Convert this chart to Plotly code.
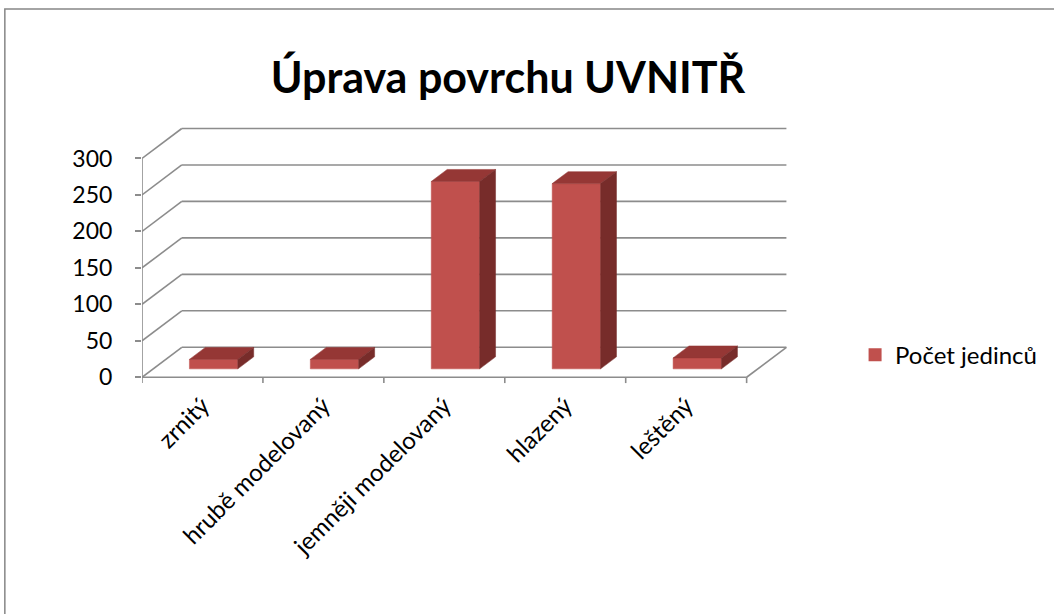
import plotly.graph_objects as go

# ---- data ----
categories = ["zrnitý", "hrubě modelovaný", "jemněji modelovaný", "hlazený", "leštěný"]
values = [13, 13, 257, 254, 15]
series_name = "Počet jedinců"
y_ticks = [0, 50, 100, 150, 200, 250, 300]
title_text = "Úprava povrchu UVNITŘ"

# ---- style / geometry ----
FONT = "Lato, 'Open Sans', sans-serif"
FRONT = "#C0504D"
TOP = "#953735"
SIDE = "#772C2A"
GRID = "#8C8C8C"
DX, DY = 0.329, 41.1      # oblique depth vector in data units
D1, D2 = 0.28, 0.68       # bar depth span (fraction of floor depth)
HW = 0.2                  # half bar width in category units
N = len(categories)
YMAX = y_ticks[-1]


def proj(c, v, d):
    return c + d * DX, v + d * DY


fig = go.Figure()


def add_lines(segs, color=GRID, width=1.6):
    xs, ys = [], []
    for a, b in segs:
        pa, pb = proj(*a), proj(*b)
        xs += [pa[0], pb[0], None]
        ys += [pa[1], pb[1], None]
    fig.add_trace(go.Scatter(x=xs, y=ys, mode="lines", line=dict(color=color, width=width),
                             hoverinfo="skip", showlegend=False))


# walls / floor frame
segs = []
for v in y_ticks:
    segs.append(((0, v, 0), (0, v, 1)))     # left wall diagonals
    segs.append(((0, v, 1), (N, v, 1)))     # back wall gridlines
segs.append(((0, 0, 0), (0, YMAX, 0)))      # front value axis
segs.append(((0, 0, 0), (N, 0, 0)))         # front floor edge
segs.append(((N, 0, 0), (N, 0, 1)))         # right floor edge
for k in range(N + 1):
    segs.append(((k, 0, 0), (k, -8, 0)))    # category ticks
add_lines(segs)


def face(pts, color):
    xs, ys = [], []
    for p in pts + [pts[0]]:
        x, y = proj(*p)
        xs.append(x)
        ys.append(y)
    fig.add_trace(go.Scatter(x=xs, y=ys, mode="lines", fill="toself", fillcolor=color,
                             line=dict(color=color, width=0.5), hoverinfo="skip",
                             showlegend=False))


for i, v in enumerate(values):
    c0, c1 = i + 0.5 - HW, i + 0.5 + HW
    face([(c0, 0, D1), (c1, 0, D1), (c1, v, D1), (c0, v, D1)], FRONT)
    face([(c0, v, D1), (c1, v, D1), (c1, v, D2), (c0, v, D2)], TOP)
    face([(c1, 0, D1), (c1, 0, D2), (c1, v, D2), (c1, v, D1)], SIDE)

# legend entry
fig.add_trace(go.Scatter(x=[None], y=[None], mode="markers", name=series_name,
                         marker=dict(symbol="square", size=13, color=FRONT), showlegend=True))

fig.update_layout(
    width=1054, height=614,
    margin=dict(l=142, r=255, t=122, b=228),
    paper_bgcolor="white", plot_bgcolor="white",
    font=dict(family=FONT, color="black", size=22),
    title=dict(text="<b>" + title_text + "</b>", x=508 / 1054, xref="container", xanchor="center",
               y=1 - 78 / 614, yref="container", yanchor="middle",
               font=dict(size=43, family=FONT, color="black")),
    xaxis=dict(range=[0, 5.4], showgrid=False, zeroline=False, showline=False,
               tickmode="array", tickvals=[i + 0.5 for i in range(N)], ticktext=categories,
               tickangle=-45, ticks="", tickfont=dict(size=24)),
    yaxis=dict(range=[-12, 350], showgrid=False, zeroline=False, showline=False,
               tickmode="array", tickvals=y_ticks, ticks="outside", ticklen=6,
               tickcolor=GRID, tickwidth=1.6, ticklabelstandoff=18, tickfont=dict(size=23)),
    legend=dict(x=1.092, xanchor="left", y=0.1165, yanchor="middle", font=dict(size=24),
                bgcolor="rgba(0,0,0,0)", itemwidth=30),
    shapes=[dict(type="rect", xref="paper", yref="paper",
                 x0=(4 - 142) / 657, x1=2.0, y0=-2.0, y1=(386 - 9) / 264,
                 line=dict(color="#868686", width=1.5), fillcolor="rgba(0,0,0,0)", layer="below")],
)

fig.write_html("out.html", config={"displayModeBar": False},
               post_script="document.body.style.margin='0';document.body.style.overflow='hidden';")
